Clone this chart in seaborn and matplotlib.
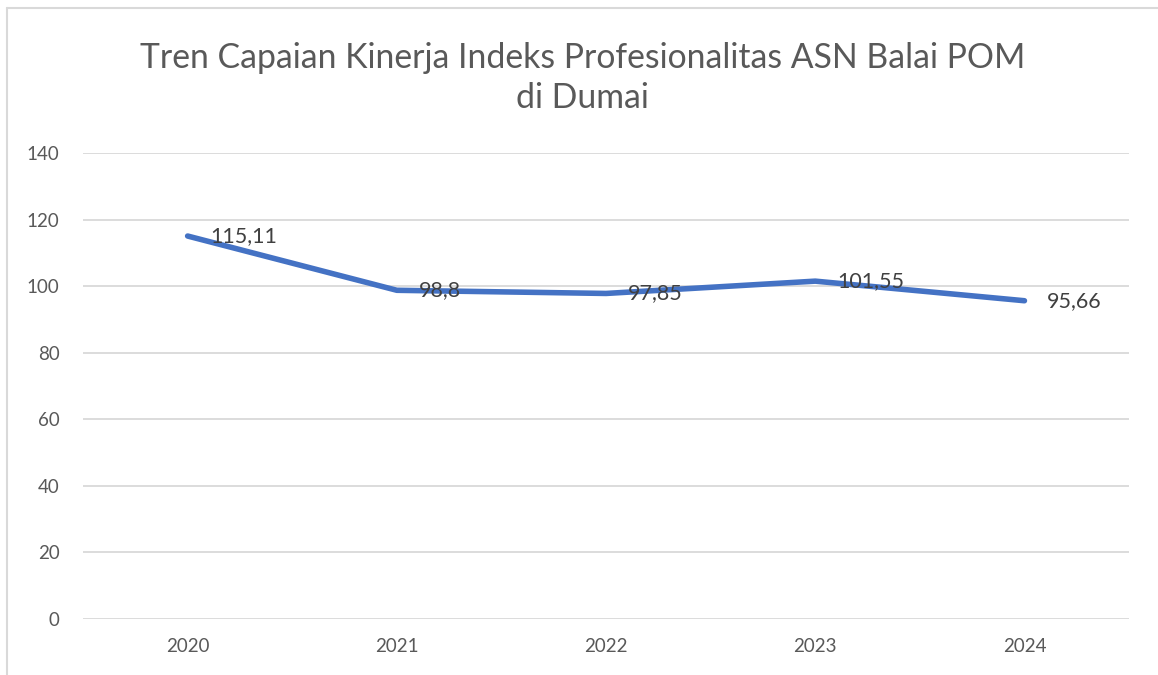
import matplotlib
matplotlib.use('Agg')
import matplotlib.pyplot as plt
import seaborn as sns
import pandas as pd
from matplotlib.lines import Line2D

# data
tahun = ['2020', '2021', '2022', '2023', '2024']
nilai = [115.11, 98.8, 97.85, 101.55, 95.66]
label_nilai = ['115,11', '98,8', '97,85', '101,55', '95,66']
judul = 'Tren Capaian Kinerja Indeks Profesionalitas ASN Balai POM\ndi Dumai'

sns.set_theme(style='white')
plt.rcParams['font.family'] = ['Lato', 'DejaVu Sans']

df = pd.DataFrame({'tahun': tahun, 'nilai': nilai})

fig = plt.figure(figsize=(11.58, 6.75), dpi=100)
ax = fig.add_axes([0.0717, 0.083, 0.9033, 0.690])

sns.lineplot(data=df, x='tahun', y='nilai', ax=ax, color='#4472C4', lw=4,
             solid_capstyle='round', solid_joinstyle='round', zorder=3)

for i, (v, t) in enumerate(zip(nilai, label_nilai)):
    ax.annotate(t, (i, v), xytext=(16, 0), textcoords='offset points',
                ha='left', va='center', fontsize=15.5, color='#404040', zorder=4)

ax.set_ylim(0, 140)
ax.set_yticks(range(0, 141, 20))
ax.set_xlim(-0.5, 4.5)
ax.grid(axis='y', color='#d9d9d9', lw=1.3)
ax.grid(axis='x', visible=False)
for s in ax.spines.values():
    s.set_visible(False)
ax.tick_params(axis='both', length=0, labelsize=13.5, labelcolor='#595959')
ax.tick_params(axis='y', pad=17)
ax.tick_params(axis='x', pad=14)
ax.set_xlabel('')
ax.set_ylabel('')

fig.text(0.503, 0.884, judul, ha='center', va='center', fontsize=24.3,
         color='#595959', linespacing=1.3)

# bingkai chart
fig.add_artist(Line2D([6.5 / 1158, 6.5 / 1158], [0, 1 - 8 / 675], transform=fig.transFigure,
                      color='#d9d9d9', lw=1.5))
fig.add_artist(Line2D([6.5 / 1158, 1], [1 - 8 / 675, 1 - 8 / 675], transform=fig.transFigure,
                      color='#d9d9d9', lw=1.5))

fig.savefig('out.png', dpi=100, facecolor='white')
